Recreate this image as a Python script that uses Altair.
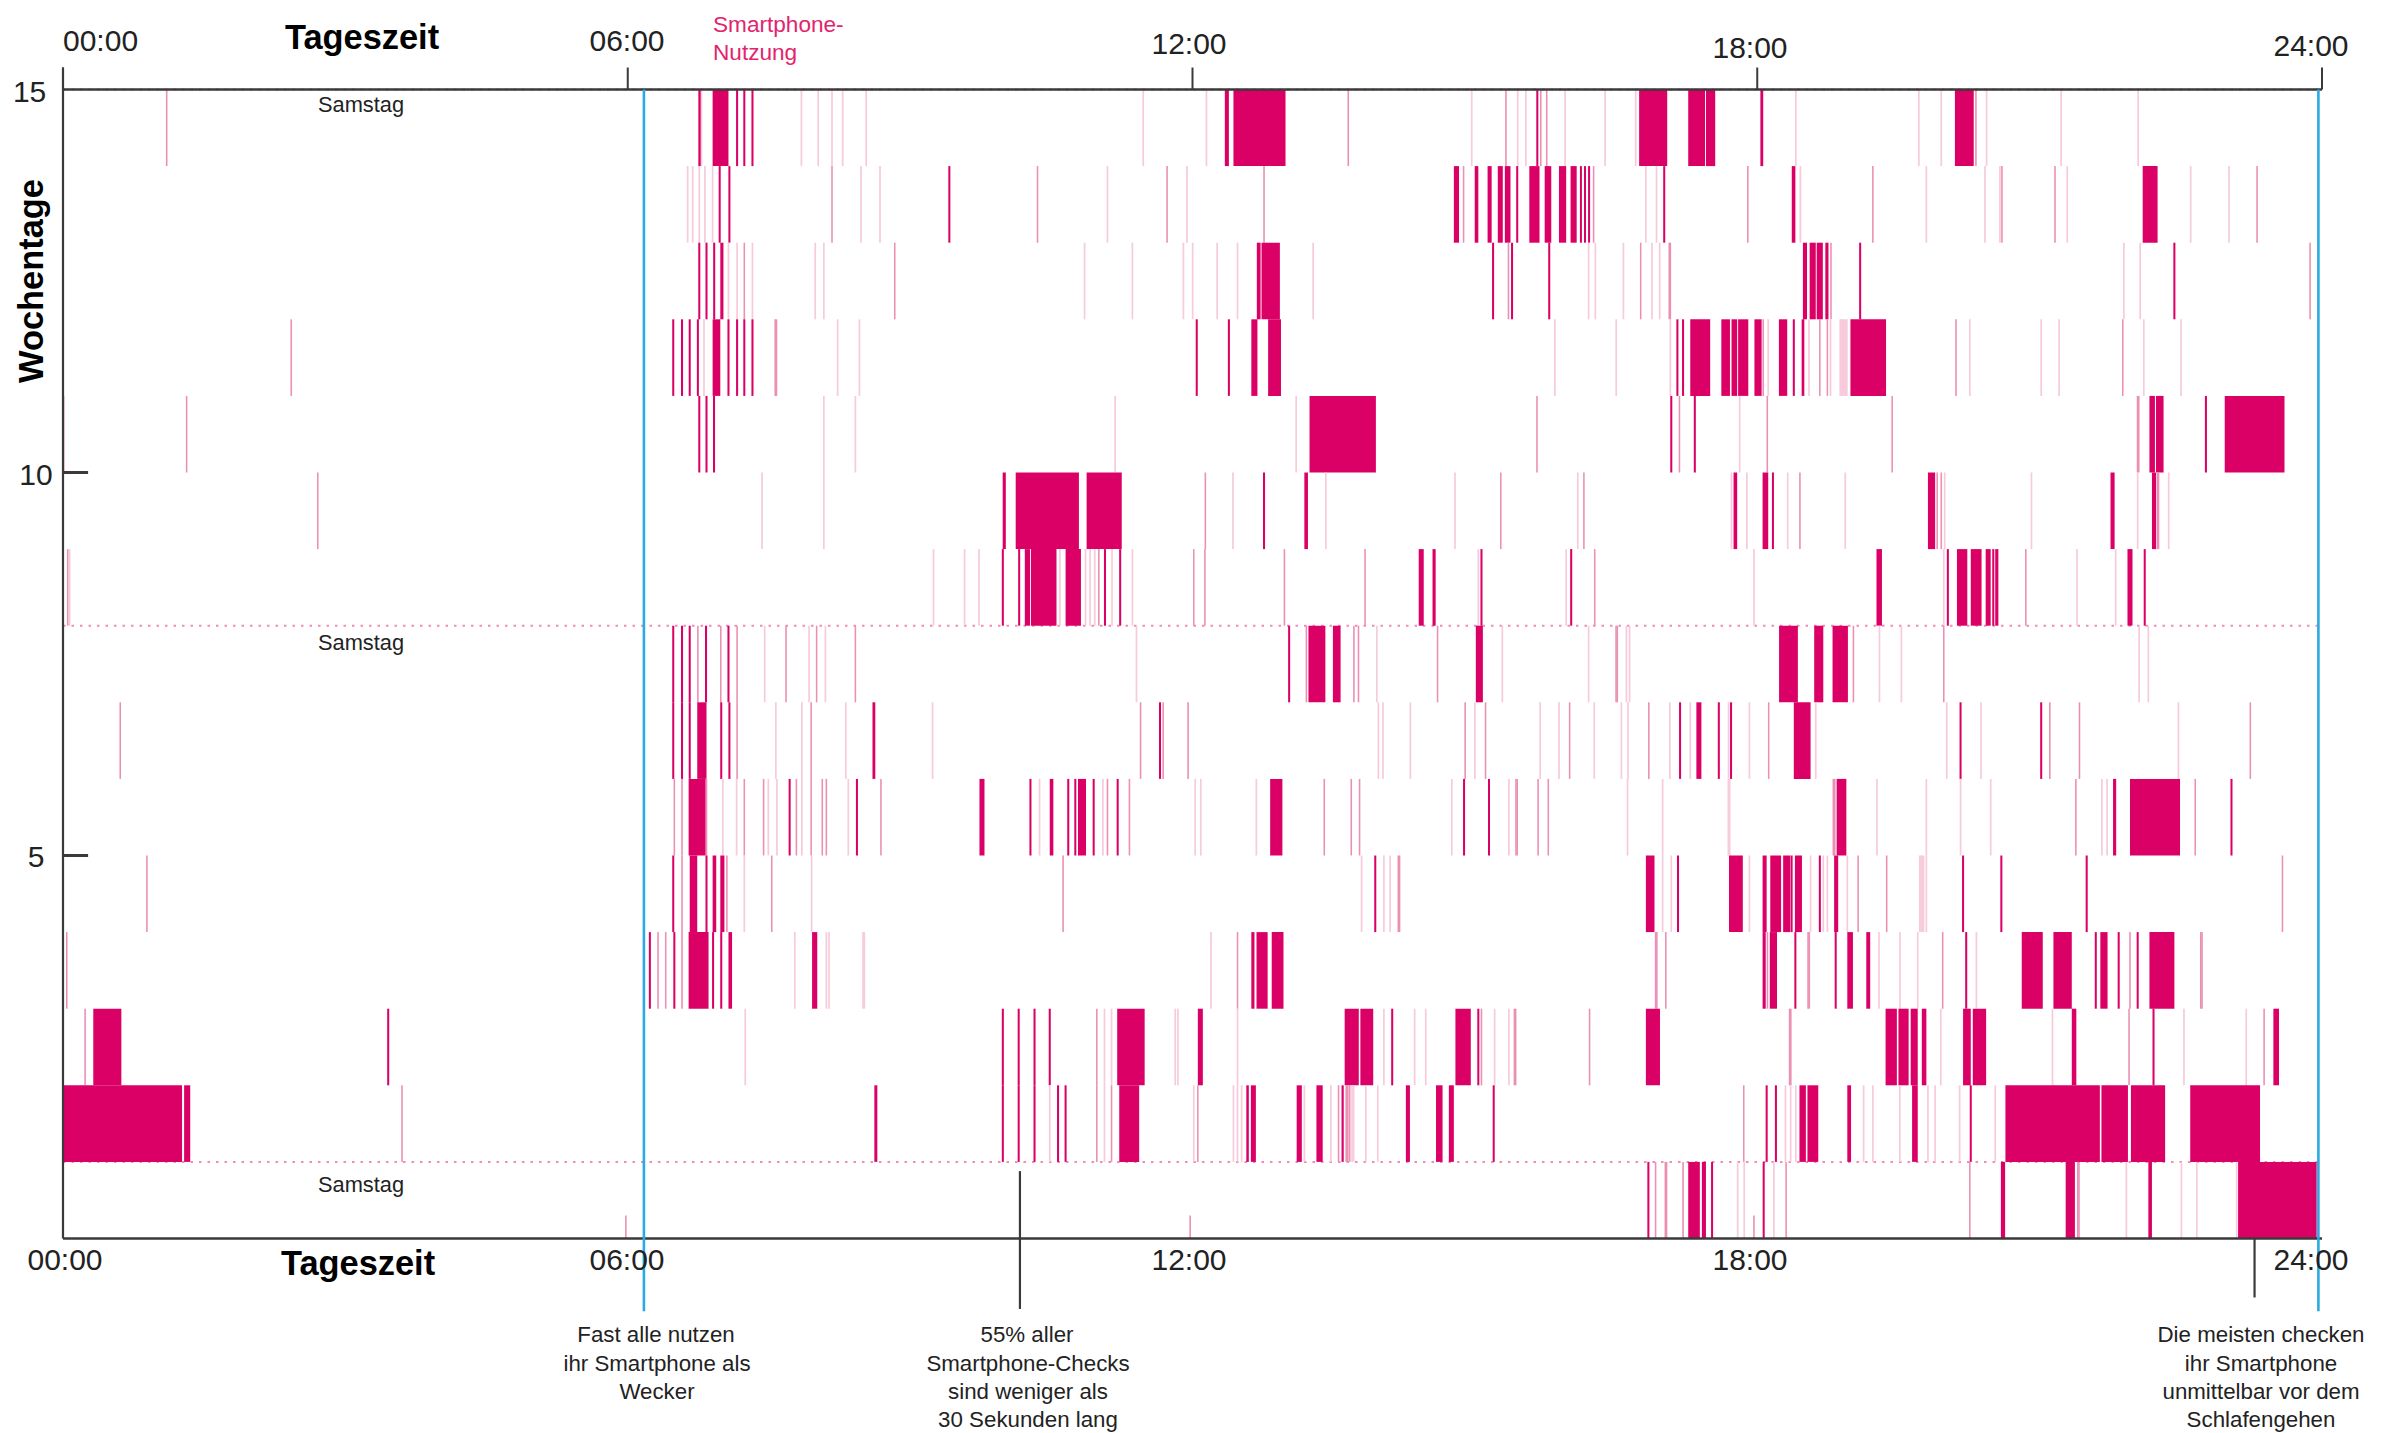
import altair as alt
import pandas as pd

# All times are minutes after midnight.
# solid: long sessions (start, end); thin: short solid checks; mid / pale: fainter checks.
solid_14 = [(405,406.5),(414.1,424.2),(740.6,743.2),(746.1,779.3),(1004.7,1022.6),(1036,1046.7),(1047.3,1053.2),(1082,1083.8),(1206,1218)]
thin_14 = [429.7,434.3,439.5,939.8]
mid_14 = [66.1,819.3,919.8,942,945.8,1219.4]
pale_14 = [407,470.7,481.4,490.2,497,512,688.6,728.9,898,927.3,932.5,957.5,983,1002.5,1104.6,1183,1197.3,1226.2,1273.7,1322.8]

solid_13 = [(886.6,889.9),(899.9,902.2),(908.1,910.7),(914.6,917.8),(919.1,922.7),(934.7,941.2),(944.5,948.7),(953.6,958.2),(961,964.9),(1102,1104.3),(1325.7,1335.2)]
thin_13 = [418.6,424.8,565,927,967.6,970.2,972.8,1020.7]
mid_13 = [490.2,621.2,703.8,765.6,892.8,975.7,1074,1153.7,1236,1269.8,1398.6]
pale_13 = [398.2,401.4,405.6,409.2,414.1,508.7,520.8,665.8,716.5,1009,1015.8,1107.5,1187.8,1225.2,1234.7,1277.6,1356.3,1380.7]

solid_12 = [(419,421),(761,763.4),(764,775.7),(1109.1,1111.7),(1113.4,1117.3),(1117.9,1121.8),(1123.4,1125.4)]
thin_12 = [405.6,410.2,415.1,911.6,923.7,947.4,1145.6,1345.9]
mid_12 = [434.3,530.2,921.4,1005.7,1023.9,1024.6,1127,1432.4]
pale_12 = [424.2,429.7,439.5,479.5,485,651.2,681.7,714.2,720.1,735.7,748.7,796.9,972.5,976.8,994.7,1012.9,1017.8,1313.7,1324.1]

solid_11 = [(414.1,419),(757.5,761.4),(768.2,776.4),(1037.3,1050),(1057.1,1062.6),(1063.6,1067.2),(1067.8,1074.3),(1078.2,1082.8),(1093.8,1099.1),(1108.3,1110),(1139.4,1162.1)]
thin_11 = [389,394.6,399.5,404.7,424.2,429.7,434.3,439.5,722.7,743.2,1029.1,1032.7,1103.3]
mid_11 = [145.5,454,454.8,1083.8,1119.9,1124.7,1206.7,1313]
pale_11 = [408.6,493.8,507.7,951,990.1,1024.6,1087,1113,1126.7,1132.9,1133.6,1134.3,1135,1135.7,1136.4,1137.1,1215.5,1261,1272.4,1326.4,1350.1]

solid_10 = [(794.6,836.9),(1330,1333.5),(1334.2,1339),(1378,1416.1)]
thin_10 = [405.6,410.2,415,1025.2,1040.2,1366]
mid_10 = [0.4,78.8,939.6,1030.4,1086.4,1166,1322.4,1323.2]
pale_10 = [485,505.1,670.7,786.1,1068.8]

solid_9 = [(599,601),(607.3,647.6),(652.5,674.9),(791.3,793.6),(1064.9,1067.2),(1083.4,1087),(1188.8,1193.4),(1305.2,1307.8),(1331.6,1334.2)]
thin_9 = [765.6,1090]
mid_9 = [162.4,728.2,916.5,969.5,1107.2,1194.7,1197.3,1335,1335.8]
pale_9 = [445.6,485,745.8,805,887.3,965.6,1063.6,1073.4,1099.4,1136.1,1199.5,1254.8,1322.5,1342.3]

solid_8 = [(613.1,616.4),(617,633.3),(639.1,648.9),(864.2,867.4),(873,875),(1156,1159.5),(1207.3,1213.9),(1216.1,1223),(1225.6,1228.8),(1229.8,1231.1),(1231.7,1233.7),(1316,1319.2)]
thin_8 = [599.1,609.5,664.2,673.9,904.2,961.4,1201.5,1327]
mid_8 = [3,660.3,720.8,727.9,778.6,830,976.4,1251.2]
pale_8 = [4.2,554.9,574.7,583.9,635.5,651.8,654.7,657.7,668.7,681.7,902.2,958.2,1077.9,1198.9,1283.8,1308.5]

solid_7 = [(793.9,804.7),(809.5,814.4),(900.6,905.1),(1093.9,1105.9),(1116.3,1122.1),(1128,1137.8)]
thin_7 = [389,394.6,399.5,409.9,424.2,781.6]
mid_7 = [404.7,419.3,429.7,460.9,480.4,505.1,792.6,822.9,825.8,876.2,990,990.8,1141.3,1198.9]
pale_7 = [447.3,475.6,486,684.3,837.5,917.5,972.5,996.6,998.6,1157.9,1171.9,1323.4,1329.3]

solid_6 = [(404.3,410.2),(516,517.8),(1041.2,1044.4),(1103.3,1114)]
thin_6 = [389,394.6,399.5,419.6,424.8,699.3,1030.8,1055.5,1063.3,1209.6,1261]
mid_6 = [36.5,429.7,476.9,686.9,701.3,717.2,893.8,906.8,960.4,1010.9,1087.3,1266.5,1285.4,1394.3]
pale_6 = [454.4,471,499,554.3,838.5,841.4,858.9,900,941.6,953.6,976.1,993.4,997.6,1024.3,1037.3,1061.7,1075,1117.3,1200.8,1222.6,1348.5]

solid_5 = [(398.8,409.6),(584.2,587.4),(629,631.3),(647,652.1),(769.5,777.3),(1130.6,1136.8),(1306.8,1308.8),(1317.6,1349.5)]
thin_5 = [463.2,506.1,616.7,640.8,645.3,657,672.3,893.1,909,1382.3]
mid_5 = [389.7,394.6,410.2,434.3,446.6,467.5,476.9,484,486.6,521.4,665.8,679.8,804,821.2,826.5,926.2,927,940.3,946.8,1128.5,1129.4,1283.1,1359.2]
pale_5 = [420.6,429.4,449.6,455.1,471,500.6,622.5,662.9,721.7,725.3,760.7,885.3,921.7,997.3,1019.7,1061.6,1062.4,1156.3,1187.8,1209.6,1228.8,1299.7,1303]

solid_4 = [(399.5,404.3),(414.1,416.4),(419,421.6),(1009,1014.5),(1062,1070.8),(1083.4,1086),(1088.3,1095.2),(1096.5,1101),(1104,1108.5),(1129,1131.6)]
thin_4 = [389,410.2,836.5,1029.5,1101.9,1119.9,1211.2,1235.6,1290]
mid_4 = [53.5,394.6,423.2,451.8,637.5,851.2,852,1144.3,1162.5,1414.8]
pale_4 = [434.3,477.2,827.8,842,846,1019.7,1025.2,1075,1114,1122.1,1124.7,1137.4,1183.6,1184.4,1185.2,1186,1187.8]

solid_3 = [(398.8,411.5),(424.2,426.5),(477.5,480.8),(760.8,767.9),(757.5,759.5),(770.5,778),(1083.4,1085.4),(1088,1092.6),(1137.4,1141),(1149.5,1152),(1248.6,1262),(1268.8,1280.5),(1298.7,1303.3),(1330,1345.9)]
thin_3 = [374.1,389.7,414.4,419.6,1104.3,1130,1213.2,1295.8,1310.4,1322.5]
mid_3 = [2.4,379.3,384.2,394.6,748.7,1015.2,1016,1021.7,1086.5,1112.4,1113.2,1198.2,1317.6,1362.7,1363.5]
pale_3 = [466.5,486.6,488.3,510,510.8,731.8,1157.6,1171,1182.3,1219.7]

solid_2 = [(19.3,37.2),(672,689.5),(723.4,726.6),(817,826),(827,835.2),(887.6,897.4),(1009,1018),(1161.8,1169),(1170,1176.5),(1177.8,1182.3),(1184.9,1187.8),(1211.2,1216.1),(1217.4,1225.9),(1280.5,1283.4),(1409,1412.6)]
thin_2 = [207.3,599.1,609.2,619.3,629,847.3,902.2,1332.6]
mid_2 = [14.1,659,904.2,925.2,926,973.1,1100.6,1101.4,1317,1403.1]
pale_2 = [434.9,663.9,668.4,709,710.7,748.7,842,861.6,868.7,912.6,921.7,1197,1268.2,1352,1391.7]

solid_1 = [(0,75.9),(77.2,81.1),(517.2,519.1),(673.3,686),(754.3,755.9),(757.2,760.4),(786.4,789.7),(799,803),(815,816.4),(856,858.6),(875.2,879.4),(883.4,886.6),(1106.9,1111),(1112,1118.9),(1137.4,1139.8),(1178.7,1182.3),(1238.2,1298.4),(1299.4,1316.3),(1318.2,1340),(1356,1400.5)]
thin_1 = [599.1,609.2,619.3,634.3,639.1,912,1086,1091.9,1216.1]
mid_1 = [216.1,659,668.4,723.4,813.1,818,819,820.2,1071.4]
pale_1 = [629,663.9,720.8,746.1,748.7,751.3,791.3,808.2,821.7,822.7,830.5,838.1,1098,1101.3,1104.6,1147.8,1153.7,1170.9,1188.8,1193.4,1209,1231.7]

solid_0 = [(1036,1043.4),(1044.7,1047.3),(1235.3,1238),(1276.6,1282.5),(1329.3,1331.6),(1386.5,1436.6)]
thin_0 = [1010.6,1051.2,1084.1]
mid_0 = [1015.2,1021.4,1022.2,1032.7,1098.4,1215.5,1284.3,1285.1]
pale_0 = [1067.5,1071.7,1090.6,1315.3,1350.4,1360.2,1385.6]

# Very short checks that reach only a third of the bottom row
short_0 = [358.8,718.5,1077.9]

ROWS = [
    (14, solid_14, thin_14, mid_14, pale_14),
    (13, solid_13, thin_13, mid_13, pale_13),
    (12, solid_12, thin_12, mid_12, pale_12),
    (11, solid_11, thin_11, mid_11, pale_11),
    (10, solid_10, thin_10, mid_10, pale_10),
    (9, solid_9, thin_9, mid_9, pale_9),
    (8, solid_8, thin_8, mid_8, pale_8),
    (7, solid_7, thin_7, mid_7, pale_7),
    (6, solid_6, thin_6, mid_6, pale_6),
    (5, solid_5, thin_5, mid_5, pale_5),
    (4, solid_4, thin_4, mid_4, pale_4),
    (3, solid_3, thin_3, mid_3, pale_3),
    (2, solid_2, thin_2, mid_2, pale_2),
    (1, solid_1, thin_1, mid_1, pale_1),
    (0, solid_0, thin_0, mid_0, pale_0),
]

time_ticks = [0, 360, 720, 1080, 1440]
week_ticks = [5, 10]
saturday_lines = [1, 8, 15]
alarm_lines = [370.3, 1437.7]

PINK = "#DB0066"
MID = "#EB8FB3"
PALE = "#F7CBDB"
DARK = "#3a3a3a"
BLUE = "#29ABE2"
FONT = "Liberation Sans"
W, H = 2259, 1149

records = []
for row, solid, thin, mid, pale in ROWS:
    for t in pale:
        records.append(dict(a=t - 0.55, b=t + 0.55, y=row, y2=row + 1, c=PALE))
    for t in mid:
        records.append(dict(a=t - 0.5, b=t + 0.5, y=row, y2=row + 1, c=MID))
    for t in thin:
        records.append(dict(a=t - 0.65, b=t + 0.65, y=row, y2=row + 1, c=PINK))
    for a, b in solid:
        records.append(dict(a=a, b=b, y=row, y2=row + 1, c=PINK))
for t in short_0:
    records.append(dict(a=t - 0.5, b=t + 0.5, y=0, y2=0.3, c=MID))
events = pd.DataFrame(records)

x_scale = alt.Scale(domain=[0, 1440], nice=False, zero=False)
y_scale = alt.Scale(domain=[0, 15], nice=False, zero=False)
X = lambda f: alt.X(f, type="quantitative", scale=x_scale, axis=None)
Y = lambda f: alt.Y(f, type="quantitative", scale=y_scale, axis=None)

dots = alt.Chart(pd.DataFrame({"y": saturday_lines})).mark_rule(
    color="#F08CB8", strokeWidth=2, strokeDash=[2.5, 6], clip=False
).encode(y=Y("y"), x=alt.value(0), x2=alt.value(W))

rects = alt.Chart(events).mark_rect(strokeWidth=0, clip=False).encode(
    x=X("a"), x2="b", y=Y("y"), y2="y2",
    color=alt.Color("c:N", scale=None),
)

frame_h = alt.Chart(pd.DataFrame({"y": [0, 15]})).mark_rule(color=DARK, strokeWidth=2.6).encode(
    y=Y("y"), x=alt.value(0), x2=alt.value(W)
)
frame_v = alt.Chart(pd.DataFrame({"x": [0], "y": [0], "y2": [15.287]})).mark_rule(
    color=DARK, strokeWidth=2.2
).encode(x=X("x"), y=Y("y"), y2="y2")
top_ticks = alt.Chart(pd.DataFrame({"x": time_ticks, "y": [15] * 5, "y2": [15.287] * 5})).mark_rule(
    color=DARK, strokeWidth=2
).encode(x=X("x"), y=Y("y"), y2="y2")
left_ticks = alt.Chart(pd.DataFrame({"y": week_ticks, "x": [0, 0], "x2": [16, 16]})).mark_rule(
    color=DARK, strokeWidth=3
).encode(y=Y("y"), x=X("x"), x2="x2")

blue = alt.Chart(pd.DataFrame({"x": alarm_lines, "y": [-0.95, -0.95], "y2": [15, 15]})).mark_rule(
    color=BLUE, strokeWidth=2.6, clip=False
).encode(x=X("x"), y=Y("y"), y2="y2")
callouts = alt.Chart(pd.DataFrame({"x": [610, 1397], "y": [-0.92, -0.77], "y2": [0.88, 0]})).mark_rule(
    color=DARK, strokeWidth=2.2, clip=False
).encode(x=X("x"), y=Y("y"), y2="y2")


def label(text, px, py, size, align="center", weight="normal", color="#222222", angle=0):
    """px, py: page position of the text anchor."""
    return alt.Chart(pd.DataFrame({"t": [text]})).mark_text(
        font=FONT, fontSize=size, fontWeight=weight, color=color,
        align=align, baseline="alphabetic", angle=angle,
    ).encode(x=alt.value(px - 63), y=alt.value(py - 89.5), text="t:N")


texts = [
    label("00:00", 63, 51, 30, "left"),
    label("Tageszeit", 362, 49, 34.4, weight="bold", color="#000000"),
    label("06:00", 627, 51, 30),
    label("12:00", 1189, 54, 30),
    label("18:00", 1750, 58, 30),
    label("24:00", 2311, 56, 30),
    label("Smartphone-", 713, 32, 22.6, "left", color="#E2246E"),
    label("Nutzung", 713, 60, 22.6, "left", color="#E2246E"),
    label("15", 29.6, 102, 30),
    label("10", 36, 485, 30),
    label("5", 36, 867, 30),
    label("Wochentage", 43, 281, 34.4, weight="bold", angle=270, color="#000000"),
    label("Samstag", 361, 112, 21.8),
    label("Samstag", 361, 650, 21.8),
    label("Samstag", 361, 1192, 21.8),
    label("00:00", 65, 1270, 30),
    label("Tageszeit", 358, 1275, 34.4, weight="bold", color="#000000"),
    label("06:00", 627, 1270, 30),
    label("12:00", 1189, 1270, 30),
    label("18:00", 1750, 1270, 30),
    label("24:00", 2311, 1270, 30),
    label("Fast alle nutzen", 656, 1342, 22.3),
    label("ihr Smartphone als", 657, 1371, 22.3),
    label("Wecker", 657, 1399, 22.3),
    label("55% aller", 1027, 1342, 22.3),
    label("Smartphone-Checks", 1028, 1371, 22.3),
    label("sind weniger als", 1028, 1399, 22.3),
    label("30 Sekunden lang", 1028, 1426.5, 22.3),
    label("Die meisten checken", 2261, 1342, 22.3),
    label("ihr Smartphone", 2261, 1371, 22.3),
    label("unmittelbar vor dem", 2261, 1399, 22.3),
    label("Schlafengehen", 2261, 1426.5, 22.3),
]

chart = alt.layer(
    dots, rects, frame_h, frame_v, top_ticks, left_ticks, blue, callouts, *texts
).properties(
    width=W, height=H,
    padding={"left": 55, "top": 81.5, "right": 55, "bottom": 194},
    autosize=alt.AutoSizeParams(type="none"),
    background="white",
).configure_view(stroke=None)

chart.save("out.html", embed_options={"renderer": "svg", "actions": False})
